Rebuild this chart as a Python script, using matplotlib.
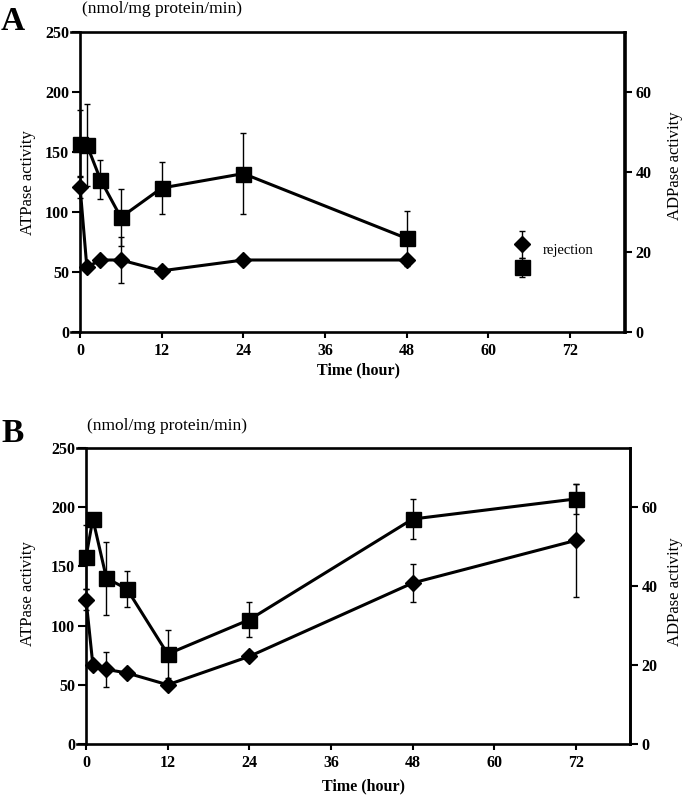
import numpy as np
import matplotlib
matplotlib.use("Agg")
import matplotlib.pyplot as plt

plt.rcParams['font.family'] = ['Liberation Serif', 'DejaVu Serif']

# panel A (values read in ATPase-axis units)
time_a = [0, 1, 3, 6, 12, 24, 48]
diamond_a = [121, 54, 60, 60, 51, 60, 60]
diamond_a_err = [9, 0, 0, 19, 0, 0, 0]
square_a = [157, 156, 127, 95.5, 120, 132, 78]
square_a_err = [28, 34, 16.5, 24, 22, 34, 23]

# rejection points shown in panel A
rej_time = [65]
rej_diamond = [73]
rej_diamond_err = [11]
rej_square = [54]
rej_square_err = [8]

# panel B
time_b = [0, 1, 3, 6, 12, 24, 48, 72]
diamond_b = [122, 67, 63, 60, 50, 74, 136, 172]
diamond_b_err = [9, 0, 15, 0, 0, 0, 16, 48]
square_b = [158, 190, 140, 131, 76, 105, 190, 207]
square_b_err = [27, 0, 31, 15, 20, 15, 17, 13]

x_ticks = [0, 12, 24, 36, 48, 60, 72]
left_ticks = [0, 50, 100, 150, 200, 250]
right_ticks = [0, 20, 40, 60]

W, H = 685, 796
fig = plt.figure(figsize=(W / 100, H / 100), dpi=100)


def px_axes(left, right, top, bottom):
    return [left / W, 1 - bottom / H, (right - left) / W, (bottom - top) / H]


def style_axes(ax):
    ax.set_xlim(-1.3, 80)
    ax.set_ylim(0, 250)
    ax.spines['left'].set_position(('data', 0))
    for s in ax.spines.values():
        s.set_linewidth(1.9)
    ax.set_xticks(x_ticks)
    ax.set_yticks(left_ticks)
    ax.tick_params(axis='x', direction='out', length=4.5, width=1.5, pad=3.5,
                   labelsize=11.5)
    ax.tick_params(axis='y', direction='out', length=6, width=1.5, pad=2,
                   labelsize=11.5)
    for lab in ax.get_xticklabels() + ax.get_yticklabels():
        lab.set_fontweight('bold')

    ax2 = ax.twinx()
    ax2.set_ylim(0, 75)
    ax2.set_yticks(right_ticks)
    for name, s in ax2.spines.items():
        s.set_visible(name == 'right')
        s.set_linewidth(1.9)
    ax2.tick_params(axis='y', direction='out', length=6, width=1.5, pad=2,
                    labelsize=11.5)
    for lab in ax2.get_yticklabels():
        lab.set_fontweight('bold')
    return ax2


def draw_series(ax, t, y, err, marker, ms, line=True):
    ax.errorbar(t, y, yerr=err, fmt='none', ecolor='black', elinewidth=1.0,
                capsize=2.5, capthick=1.0, zorder=2)
    ax.plot(t, y, color='black', lw=2.2 if line else 0, marker=marker,
            markersize=ms, markerfacecolor='black', markeredgecolor='black',
            zorder=3, clip_on=False)


# ---- panel A
axA = fig.add_axes(px_axes(71.2, 624.5, 32, 332))
style_axes(axA)
draw_series(axA, time_a, square_a, square_a_err, 's', 10.8)
draw_series(axA, time_a, diamond_a, diamond_a_err, 'D', 8.2)
draw_series(axA, rej_time, rej_diamond, rej_diamond_err, 'D', 8.2, line=False)
draw_series(axA, rej_time, rej_square, rej_square_err, 's', 10.8, line=False)
axA.text(68.0, 68, 'rejection', fontsize=10.5, va='center', ha='left')

# ---- panel B
axB = fig.add_axes(px_axes(77.2, 630.4, 448, 744))
style_axes(axB)
draw_series(axB, time_b, square_b, square_b_err, 's', 10.8)
draw_series(axB, time_b, diamond_b, diamond_b_err, 'D', 8.2)

# labels placed in figure pixels
def ftext(x, y, s, **kw):
    fig.text(x / W, 1 - y / H, s, **kw)

for lab, y_lab, y_unit, y_atp, y_adp, x_time, y_time in [
        ('A', 22, 9, 183, 166, 358, 370),
        ('B', 434, 426, 594, 592, 364, 786)]:
    ftext(1, y_lab, lab, fontsize=24, fontweight='bold', ha='left', va='center')
    ftext(82 if lab == 'A' else 87, y_unit, '(nmol/mg protein/min)',
          fontsize=12.5, ha='left', va='center')
    ftext(28, y_atp, 'ATPase activity', fontsize=12, rotation=90,
          ha='center', va='center')
    ftext(675, y_adp, 'ADPase activity', fontsize=12, rotation=90,
          ha='center', va='center')
    ftext(x_time, y_time, 'Time (hour)', fontsize=11.5, fontweight='bold',
          ha='center', va='center')

fig.savefig('out.png', dpi=100)
